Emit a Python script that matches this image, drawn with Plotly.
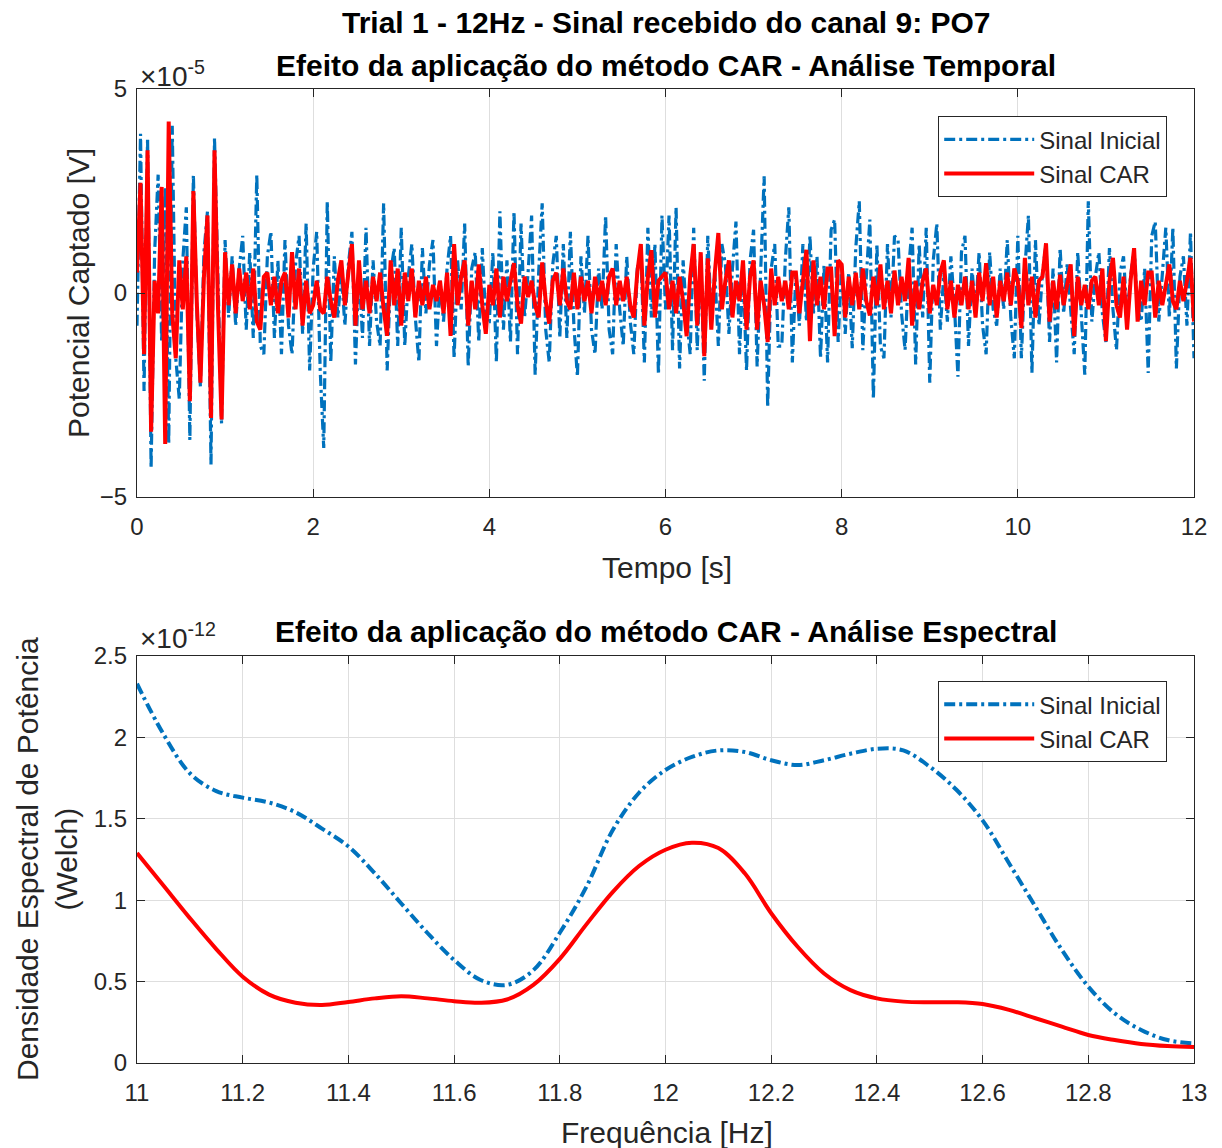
import plotly.graph_objects as go

# ---------------- Data ----------------
# Time-domain signals (units of 1e-5 V), sampled every 0.04 s from 0 to 12 s
dt = 0.04
sinal_inicial = [
    -0.8, 3.9, -2.4, 3.8, -4.3, 1.0, 2.9, -1.2, 2.6, -3.7, 4.1, -1.6, -2.6, 0.8, 2.1, -3.6, 2.9, -0.5, -2.3, 1.0,
    2.0, -4.2, 3.8, 0.5, -3.2, 1.3, -0.6, 0.9, -0.8, 0.6, 1.4, -0.9, 1.0, -1.1, 2.9, -1.3, -1.5, 0.9, 1.5, -1.1,
    0.8, -1.5, 1.3, -0.8, -1.5, 0.7, 1.4, -1.0, 1.7, -1.9,
    0.6, 1.5, -1.9, -3.8, 2.25, -1.7, 0.9, -0.6, 0.5, -0.8, 0.7, 1.5, -1.75, 0.6, -1.1, 1.6, -1.3, 0.8, -0.7, -1.3,
    2.2, -1.9, 0.5, 1.1, -1.3, 1.6, -1.3, 0.4, 1.2, -0.6, -1.7, 1.1, -0.5, 0.7, 1.3, -1.3, 0.3, -0.7, 0.6, 1.4,
    -1.6, 0.8, -0.4, 1.7, -1.8, 0.6, 1.0, -1.2, 1.1, -0.7,
    -0.7, 1.0, -1.7, 2.0, -0.9, 0.8, -1.2, 2.0, -1.5, 1.7, -0.6, 0.5, 1.9, -2.0, 0.5, 2.2, -0.9, -1.7, 0.7, 1.4,
    -1.1, 1.2, -1.1, 1.5, -0.8, -2.05, 0.9, -0.5, 1.4, -0.9, -1.5, 0.6, -0.4, 1.9, -0.9, -1.5, 1.2, -0.4, -1.3, 0.9,
    -0.7, -1.5, 0.6, 1.0, -1.7, 1.6, -0.6, 1.2, -2.0, 1.9,
    -0.4, 1.9, -1.4, 2.1, -1.85, 0.8, -0.6, -1.5, 1.6, -1.4, 0.9, -2.15, 1.4, -0.6, 0.5, -1.3, 1.2, 0.7, -1.0, 0.6,
    1.75, -1.5, 0.6, -1.9, 0.8, 1.55, -1.8, 0.5, 2.86, -2.8, 0.6, 1.2, -1.3, -1.3, 0.8, 2.1, -1.7, 0.5, -0.8, 1.2,
    -0.7, 1.4, -0.5, 0.9, -1.6, 0.7, -1.7, 1.55, 1.8, -1.2,
    0.7, -1.0, 0.5, -1.35, 1.1, 2.25, -1.4, 0.4, 1.8, -2.6, 1.2, -1.3, -1.6, 1.2, -0.6, 1.4, 1.3, -0.5, -1.4, 0.6,
    1.6, -1.75, 1.2, -0.6, 1.6, -2.2, 0.8, 1.7, -0.9, 0.5, -0.7, 0.9, -0.3, -2.05, 1.0, 1.4, -1.3, 0.6, -0.5, 1.0,
    -0.8, -1.5, 1.0, -0.4, -0.8, 0.6, -0.4, 1.3, -0.6, -1.6,
    1.4, -1.6, 0.6, 1.9, -1.96, 1.3, -0.8, 0.5, 1.2, -1.2, 0.6, -1.7, 1.1, -0.5, 0.7, -0.4, -1.5, 1.0, -0.6, -2.0,
    2.25, -0.7, 0.4, 1.0, -0.5, -1.2, 1.1, -0.4, -1.4, 0.5, 0.9, -0.6, 0.4, 1.1, -0.4, -0.7, 0.6, -1.96, 1.4, 1.75,
    -0.7, 0.5, 1.6, -0.6, 1.6, -1.85, 0.4, 0.9, -0.8, 1.5, -1.6,
]
sinal_car = [
    0.5, 2.7, -1.5, 3.5, -3.4, 0.3, -0.5, 2.6, -3.7, 4.2, -0.5, -1.6, 0.8, -0.4, 0.9, -2.65, 2.5, -0.3, -2.2, 0.4,
    1.9, -3.06, 3.5, -0.4, -3.1, 1.0, -0.3, 0.7, -0.5, 0.6, -0.2, 0.5, -0.4, 0.6, -0.7, -0.9, 0.4, 0.5, -0.3, 0.4,
    -0.5, 0.3, 0.5, -0.6, 1.0, -0.4, 0.6, -0.8, 0.3, -0.5,
    -0.3, 0.3, -0.4, -0.5, 0.4, -0.2, -0.6, 0.3, 0.8, -0.3, 0.5, 1.2, -0.8, 0.8, -0.4, 0.3, -0.5, 0.4, -0.2, 0.5,
    -0.4, -1.05, 0.8, -0.3, 0.6, -0.8, 0.5, -0.2, 0.6, -0.6, 0.3, -0.3, 0.4, -0.4, 0.2, -0.2, 0.3, -0.5, 0.5, -1.05,
    1.2, -0.3, 0.4, 0.8, -0.8, 0.3, -0.4, 0.7, -0.3, -1.0,
    0.2, -0.3, 0.6, -0.6, 0.4, -0.2, 0.3, 0.73, -0.3, -0.75, 0.4, -0.1, 0.3, -0.3, -0.6, 0.75, -0.2, -0.75, 0.3, 0.5,
    -0.3, 0.6, -0.2, -0.4, 0.5, -0.4, 0.4, -0.2, 0.3, -0.5, 0.4, -0.2, 0.3, -0.3, 0.4, 0.6, -0.3, 0.3, -0.2, 0.4,
    -0.3, -0.6, 0.5, 1.2, -0.8, 0.4, 1.05, -0.6, 0.3, 0.4,
    0.5, -0.4, 0.3, -0.5, 0.4, -0.2, -1.06, 0.4, 1.2, -0.8, 1.0, -1.55, 0.85, -0.9, 0.5, 1.47, -0.4, 0.3, 0.8, -0.6,
    0.3, -0.2, 0.8, -0.9, 0.4, 0.8, -0.9, 0.3, -0.3, -1.2, 0.6, -0.3, 0.4, -0.2, 0.3, -0.4, 0.5, 0.5, -0.5, 0.3,
    1.06, -1.18, 0.8, -0.3, 0.4, -0.4, 0.6, 0.6, -1.06, 0.8,
    0.7, -0.6, 0.4, -0.3, 0.5, -0.4, 0.6, -0.2, -0.55, 0.4, -0.3, 0.7, -0.4, 0.3, -0.5, 0.55, -0.3, 0.4, -0.2, 0.86,
    -0.8, 0.3, -0.4, 0.3, 0.6, -0.5, 0.2, -0.3, 0.5, 0.8, -0.4, 0.3, -0.6, 0.2, -0.3, 0.4, -0.4, 0.3, -0.6, 0.5,
    -0.2, 0.73, -0.3, 0.4, -0.6, 0.3, -0.2, 0.5, -0.3, 0.6,
    0.3, -0.86, 0.86, -0.3, 0.4, -0.6, 0.3, 0.4, 1.22, -0.7, 0.3, -0.4, 0.45, -0.3, 0.2, 0.7, -1.06, 0.4, -0.3, 0.2,
    -0.4, 0.3, 0.4, -0.3, 0.6, -1.18, 0.3, 0.86, -0.3, -0.6, 0.4, -0.9, 0.3, 1.1, -0.7, 0.3, -0.3, 0.5, 0.5, -0.6,
    0.3, -0.3, 0.2, 0.7, -0.2, -0.4, 0.3, -0.2, 0.3, 0.86, -0.7,
]
tempo = [round(i * dt, 2) for i in range(len(sinal_inicial))]

# Spectral (Welch PSD, units of 1e-12)
freq = [11.0, 11.05, 11.1, 11.15, 11.2, 11.25, 11.3, 11.35, 11.4, 11.45, 11.5, 11.55, 11.6, 11.65, 11.7,
        11.75, 11.8, 11.85, 11.9, 11.95, 12.0, 12.05, 12.1, 12.15, 12.2, 12.25, 12.3, 12.35, 12.4, 12.45,
        12.5, 12.55, 12.6, 12.65, 12.7, 12.75, 12.8, 12.85, 12.9, 12.95, 13.0]
psd_inicial = [2.33, 2.02, 1.78, 1.67, 1.63, 1.60, 1.54, 1.44, 1.33, 1.165, 0.98, 0.797, 0.633, 0.51, 0.48,
               0.57, 0.80, 1.08, 1.43, 1.66, 1.80, 1.88, 1.92, 1.91, 1.86, 1.83, 1.86, 1.90, 1.93, 1.92,
               1.82, 1.68, 1.49, 1.227, 0.96, 0.694, 0.469, 0.305, 0.203, 0.141, 0.12]
psd_car = [1.29, 1.09, 0.89, 0.70, 0.53, 0.42, 0.37, 0.356, 0.375, 0.397, 0.41, 0.397, 0.38, 0.37, 0.39,
           0.48, 0.64, 0.85, 1.05, 1.21, 1.31, 1.353, 1.32, 1.165, 0.92, 0.714, 0.55, 0.448, 0.397, 0.377,
           0.373, 0.373, 0.362, 0.326, 0.275, 0.223, 0.172, 0.141, 0.117, 0.104, 0.098]

x_ticks_top = [0, 2, 4, 6, 8, 10, 12]
y_ticks_top = [-5, 0, 5]

# ---------------- Style ----------------
BLUE = "#0072BD"
RED = "#FF0000"
AX = "#262626"
GRID = "#DEDEDE"
FONT = "Liberation Sans, Arial, Helvetica, sans-serif"
DASHDOT = "11px,4px,3px,4px"

# pixel geometry helpers (plot area: x 137..1194, y 89..1063)
def px(x):
    return (x - 137) / 1057

def py(y):
    return (1063 - y) / 974

fig = go.Figure()

fig.add_trace(go.Scatter(x=tempo, y=sinal_inicial, mode="lines", name="Sinal Inicial",
                         line=dict(color=BLUE, width=3.2, dash=DASHDOT),
                         xaxis="x", yaxis="y", legend="legend"))
fig.add_trace(go.Scatter(x=tempo, y=sinal_car, mode="lines", name="Sinal CAR",
                         line=dict(color=RED, width=4),
                         xaxis="x", yaxis="y", legend="legend"))
fig.add_trace(go.Scatter(x=freq, y=psd_inicial, mode="lines", name="Sinal Inicial",
                         line=dict(color=BLUE, width=4, dash=DASHDOT, shape="spline", smoothing=1.0),
                         xaxis="x2", yaxis="y2", legend="legend2"))
fig.add_trace(go.Scatter(x=freq, y=psd_car, mode="lines", name="Sinal CAR",
                         line=dict(color=RED, width=4, shape="spline", smoothing=1.0),
                         xaxis="x2", yaxis="y2", legend="legend2"))

TICK_SIZE = 24
axis_common = dict(
    showline=True, linecolor=AX, linewidth=1.2, mirror="ticks",
    ticks="inside", ticklen=8, tickcolor=AX, tickwidth=1,
    showgrid=True, gridcolor=GRID, gridwidth=1, zeroline=False,
    tickfont=dict(family=FONT, size=TICK_SIZE, color=AX),
)
x_common = dict(axis_common, ticklabelstandoff=8)
y_common = dict(axis_common, ticklabelstandoff=4)

TOP_DOM = [py(497), 1.0]
BOT_DOM = [0.0, py(656)]

legend_common = dict(xanchor="right", yanchor="top", bgcolor="white", bordercolor=AX,
                     borderwidth=1.2, font=dict(family=FONT, size=24, color=AX),
                     tracegroupgap=0, itemwidth=90)

fig.update_layout(
    width=1222, height=1148,
    margin=dict(l=137, r=28, t=89, b=85),
    paper_bgcolor="white", plot_bgcolor="white",
    font=dict(family=FONT, color=AX),
    xaxis=dict(domain=[0, 1], anchor="y", range=[0, 12], tickvals=x_ticks_top, **x_common),
    yaxis=dict(domain=TOP_DOM, anchor="x", range=[-5, 5], tickvals=y_ticks_top, **y_common),
    xaxis2=dict(domain=[0, 1], anchor="y2", range=[11, 13], dtick=0.2, tick0=11, **x_common),
    yaxis2=dict(domain=BOT_DOM, anchor="x2", range=[0, 2.5], dtick=0.5, **y_common),
    legend=dict(legend_common, x=px(1167), y=py(116)),
    legend2=dict(legend_common, x=px(1167), y=py(681)),
    showlegend=True,
)

# Titles
for txt, yy in [("<b>Trial 1 - 12Hz - Sinal recebido do canal 9: PO7</b>", 23),
                ("<b>Efeito da aplicação do método CAR - Análise Temporal</b>", 66),
                ("<b>Efeito da aplicação do método CAR - Análise Espectral</b>", 631)]:
    fig.add_annotation(text=txt, xref="paper", yref="paper", x=px(666), y=py(yy),
                       xanchor="center", yanchor="middle", showarrow=False,
                       font=dict(family=FONT, size=30, color="black"))

# Axis titles
TITLE_SIZE = 30
fig.add_annotation(text="Tempo [s]", xref="paper", yref="paper", x=px(667), y=py(567),
                   xanchor="center", yanchor="middle", showarrow=False,
                   font=dict(family=FONT, size=TITLE_SIZE, color=AX))
fig.add_annotation(text="Frequência [Hz]", xref="paper", yref="paper", x=px(667), y=py(1132),
                   xanchor="center", yanchor="middle", showarrow=False,
                   font=dict(family=FONT, size=TITLE_SIZE, color=AX))
fig.add_annotation(text="Potencial Captado [V]", xref="paper", yref="paper", x=px(78), y=py(293),
                   xanchor="center", yanchor="middle", showarrow=False, textangle=-90,
                   font=dict(family=FONT, size=TITLE_SIZE, color=AX))
fig.add_annotation(text="Densidade Espectral de Potência<br>(Welch)", xref="paper", yref="paper",
                   x=px(47), y=py(859), xanchor="center", yanchor="middle", showarrow=False,
                   textangle=-90, font=dict(family=FONT, size=TITLE_SIZE, color=AX))

# Exponent labels
for txt, yy in [("×10<sup>-5</sup>", 74), ("×10<sup>-12</sup>", 636)]:
    fig.add_annotation(text=txt, xref="paper", yref="paper", x=px(138), y=py(yy),
                       xanchor="left", yanchor="middle", showarrow=False,
                       font=dict(family=FONT, size=28, color=AX))

fig.write_html("out.html")
